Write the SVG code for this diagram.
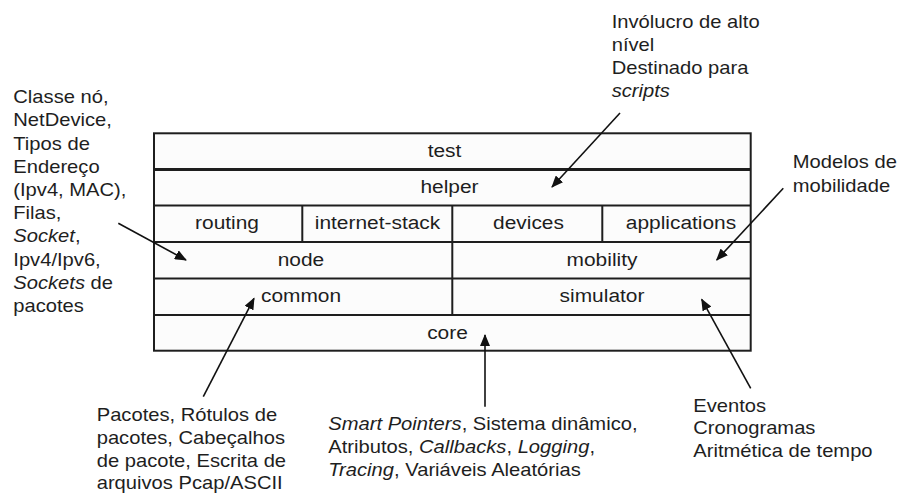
<svg xmlns="http://www.w3.org/2000/svg" width="901" height="494" viewBox="0 0 901 494">
  <style>
    .cell { fill: #fcfcfc; stroke: #1e1e1e; stroke-width: 2; }
    .div { stroke: #1e1e1e; stroke-width: 2; fill: none; }
    .lbl { font-family: "Liberation Sans", Arial, sans-serif; font-size: 19px; fill: #1e1e1e; text-anchor: middle; }
    .note { font-family: "Liberation Sans", Arial, sans-serif; font-size: 18px; fill: #1e1e1e; }
    .em { font-style: italic; }
    .arrow { stroke: #111; stroke-width: 1.6; fill: none; marker-end: url(#head); }
  </style>
  <defs>
    <marker id="head" viewBox="0 0 12 10" refX="11" refY="5" markerWidth="12" markerHeight="10" markerUnits="userSpaceOnUse" orient="auto">
      <path d="M0,0 L12,5 L0,10 z" fill="#111"/>
    </marker>
  </defs>
  <rect width="901" height="494" fill="#ffffff"/>

  <!-- layered module stack -->
  <g id="stack">
    <rect class="cell" x="154" y="133.3" width="596.7" height="217.4"/>
    <line class="div" x1="154" y1="169.4" x2="750.7" y2="169.4" style="stroke-width:3"/>
    <line class="div" x1="154" y1="205.5" x2="750.7" y2="205.5"/>
    <line class="div" x1="154" y1="242" x2="750.7" y2="242"/>
    <line class="div" x1="154" y1="278.5" x2="750.7" y2="278.5"/>
    <line class="div" x1="154" y1="315" x2="750.7" y2="315"/>
    <line class="div" x1="302.3" y1="205.5" x2="302.3" y2="242"/>
    <line class="div" x1="452.3" y1="205.5" x2="452.3" y2="315"/>
    <line class="div" x1="602.3" y1="205.5" x2="602.3" y2="242"/>
  </g>

  <g id="test"><g transform="translate(444.5,0) scale(1.1,1)"><text class="lbl" x="0" y="156.7">test</text></g></g>
  <g id="helper"><g transform="translate(449.5,0) scale(1.1,1)"><text class="lbl" x="0" y="193">helper</text></g></g>
  <g id="routing"><g transform="translate(227,0) scale(1.1,1)"><text class="lbl" x="0" y="229.5">routing</text></g></g>
  <g id="internet-stack"><g transform="translate(377.5,0) scale(1.1,1)"><text class="lbl" x="0" y="229.5">internet-stack</text></g></g>
  <g id="devices"><g transform="translate(528.5,0) scale(1.1,1)"><text class="lbl" x="0" y="229.5">devices</text></g></g>
  <g id="applications"><g transform="translate(681,0) scale(1.1,1)"><text class="lbl" x="0" y="229.5">applications</text></g></g>
  <g id="node"><g transform="translate(301,0) scale(1.1,1)"><text class="lbl" x="0" y="266">node</text></g></g>
  <g id="mobility"><g transform="translate(602,0) scale(1.1,1)"><text class="lbl" x="0" y="266">mobility</text></g></g>
  <g id="common"><g transform="translate(301,0) scale(1.1,1)"><text class="lbl" x="0" y="302.3">common</text></g></g>
  <g id="simulator"><g transform="translate(602,0) scale(1.1,1)"><text class="lbl" x="0" y="302.3">simulator</text></g></g>
  <g id="core"><g transform="translate(447.5,0) scale(1.1,1)"><text class="lbl" x="0" y="338.7">core</text></g></g>

  <!-- annotations -->
  <g id="note-helper" transform="translate(611.7,0) scale(1.12,1)">
    <text class="note" x="0" y="28.5">Invólucro de alto</text>
    <text class="note" x="0" y="51.3">nível</text>
    <text class="note" x="0" y="74.1">Destinado para</text>
    <text class="note" x="0" y="96.9"><tspan class="em">scripts</tspan></text>
  </g>
  <g id="note-mobility" transform="translate(792.7,0) scale(1.12,1)">
    <text class="note" x="0" y="168.3">Modelos de</text>
    <text class="note" x="0" y="191.6">mobilidade</text>
  </g>
  <g id="note-node" transform="translate(13.3,0) scale(1.12,1)">
    <text class="note" x="0" y="103.3">Classe nó,</text>
    <text class="note" x="0" y="126.5">NetDevice,</text>
    <text class="note" x="0" y="149.7">Tipos de</text>
    <text class="note" x="0" y="172.9">Endereço</text>
    <text class="note" x="0" y="196.1">(Ipv4, MAC),</text>
    <text class="note" x="0" y="219.3">Filas,</text>
    <text class="note" x="0" y="242.5"><tspan class="em">Socket</tspan>,</text>
    <text class="note" x="0" y="265.7">Ipv4/Ipv6,</text>
    <text class="note" x="0" y="288.9"><tspan class="em">Sockets</tspan> de</text>
    <text class="note" x="0" y="312.1">pacotes</text>
  </g>
  <g id="note-common" transform="translate(96.7,0) scale(1.12,1)">
    <text class="note" x="0" y="421.5">Pacotes, Rótulos de</text>
    <text class="note" x="0" y="444.1">pacotes, Cabeçalhos</text>
    <text class="note" x="0" y="466.7">de pacote, Escrita de</text>
    <text class="note" x="0" y="489.3">arquivos Pcap/ASCII</text>
  </g>
  <g id="note-core" transform="translate(328.3,0) scale(1.12,1)">
    <text class="note" x="0" y="430"><tspan class="em">Smart Pointers</tspan>, Sistema dinâmico,</text>
    <text class="note" x="0" y="453">Atributos, <tspan class="em">Callbacks</tspan>, <tspan class="em">Logging</tspan>,</text>
    <text class="note" x="0" y="476"><tspan class="em">Tracing</tspan>, Variáveis Aleatórias</text>
  </g>
  <g id="note-simulator" transform="translate(693.3,0) scale(1.12,1)">
    <text class="note" x="0" y="411.7">Eventos</text>
    <text class="note" x="0" y="434.2">Cronogramas</text>
    <text class="note" x="0" y="456.7">Aritmética de tempo</text>
  </g>

  <g id="connectors">
    <line class="arrow" x1="620" y1="113" x2="552" y2="187"/>
    <line class="arrow" x1="783.3" y1="188.3" x2="716.7" y2="260"/>
    <line class="arrow" x1="118.3" y1="223.3" x2="186" y2="260"/>
    <line class="arrow" x1="203.3" y1="396.7" x2="254" y2="298.3"/>
    <line class="arrow" x1="485" y1="406.7" x2="485" y2="335"/>
    <line class="arrow" x1="750.7" y1="388.3" x2="701.7" y2="299.3"/>
  </g>
</svg>
